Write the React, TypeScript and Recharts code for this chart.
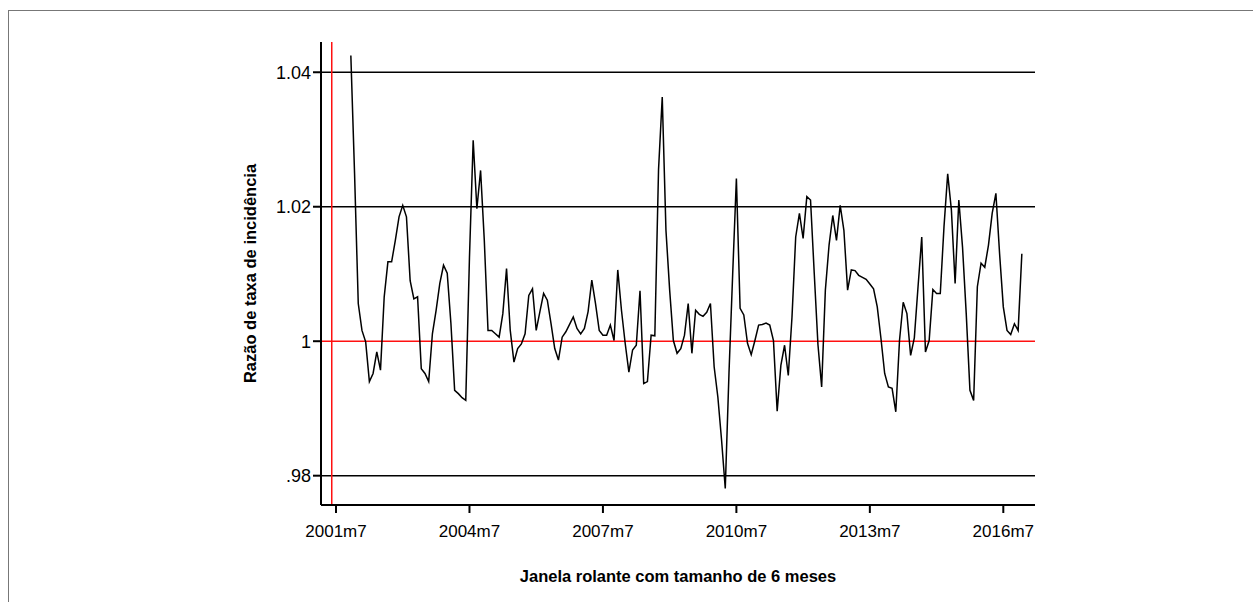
import React from 'react';
import { LineChart, Line, XAxis, YAxis, ReferenceLine } from 'recharts';

// first observation of the series
const startMonth = '2001m11';

// incidence rate ratio, one value per month (2001m11 .. 2016m12)
const ratio = [
  1.0425, 1.025,
  1.0056, 1.0016, 0.9999, 0.994, 0.9952, 0.9984, 0.9957, 1.0066, 1.0118, 1.0118, 1.015, 1.0185,
  1.0202, 1.0185, 1.009, 1.0063, 1.0066, 0.9959, 0.9952, 0.994, 1.0011, 1.0046, 1.0086, 1.0113,
  1.0101, 1.0026, 0.9927, 0.9922, 0.9916, 0.9912, 1.0125, 1.0299, 1.0197, 1.0254, 1.015, 1.0016,
  1.0016, 1.0011, 1.0006, 1.0041, 1.0108, 1.0016, 0.9969, 0.9989, 0.9996, 1.0011, 1.0068, 1.0078,
  1.0016, 1.0044, 1.0071, 1.0061, 1.0026, 0.9989, 0.9972, 1.0006, 1.0014, 1.0025, 1.0036, 1.0019,
  1.0011, 1.0019, 1.0044, 1.0091, 1.0056, 1.0016, 1.0009, 1.0009, 1.0024, 1.0001, 1.0106, 1.0046,
  0.9997, 0.9954, 0.9987, 0.9994, 1.0075, 0.9937, 0.994, 1.0009, 1.0008, 1.0255, 1.0363, 1.0165,
  1.0076, 1.0001, 0.9982, 0.9989, 1.0009, 1.0056, 0.9982, 1.0046, 1.004, 1.0037, 1.0043, 1.0056,
  0.9962, 0.9917, 0.9853, 0.9781, 0.9952, 1.01, 1.0242, 1.0049, 1.0039, 0.9997, 0.998, 1.0001,
  1.0024, 1.0025, 1.0027, 1.0024, 1.0001, 0.9896, 0.9964, 0.9994, 0.9949, 1.0036, 1.0155, 1.019,
  1.0153, 1.0215, 1.021, 1.0101, 0.9995, 0.9932, 1.0076, 1.0143, 1.0187, 1.015, 1.0202, 1.0165,
  1.0076, 1.0106, 1.0105, 1.0098, 1.0095, 1.0092, 1.0085, 1.0078, 1.0051, 1.0004, 0.9952, 0.9932,
  0.993, 0.9895, 1.0001, 1.0058, 1.0041, 0.9979, 1.0005, 1.0081, 1.0155, 0.9984, 1.0001, 1.0077,
  1.0071, 1.0071, 1.017, 1.0249, 1.0195, 1.0086, 1.021, 1.014, 1.0041, 0.9927, 0.9912, 1.0081,
  1.0116, 1.011, 1.0143, 1.019, 1.022, 1.013, 1.0051, 1.0016, 1.001, 1.0026, 1.0016, 1.013,
];

const xTickLabels = ['2001m7', '2004m7', '2007m7', '2010m7', '2013m7', '2016m7'];
const yTickValues = [0.98, 1, 1.02, 1.04];
const yTickLabels = ['.98', '1', '1.02', '1.04'];
const blackLines = [0.98, 1.02, 1.04];
const redLineY = 1;
const redLineMonth = 4.85; // a bit before 2001m7

// month index counted from 2001m1
const toIndex = (s: string) => {
  const [y, m] = s.split('m').map(Number);
  return (y - 2001) * 12 + (m - 1);
};
const toLabel = (t: number) => `${2001 + Math.floor(t / 12)}m${(t % 12) + 1}`;

const t0 = toIndex(startMonth);
const data = ratio.map((v, i) => ({ t: t0 + i, v }));
const xTicks = xTickLabels.map(toIndex);

const font = '"Liberation Sans", Arial, sans-serif';
const red = '#ff1010';

const YTitle = (props: any) => {
  const { viewBox } = props;
  const cx = viewBox.x + 9;
  const cy = viewBox.y + viewBox.height / 2;
  return (
    <text x={cx} y={cy} transform={`rotate(-90 ${cx} ${cy})`} textAnchor="middle" dominantBaseline="central"
      fontFamily={font} fontSize={16.5} fontWeight="bold" fill="#000">
      Razão de taxa de incidência
    </text>
  );
};

const XTitle = (props: any) => {
  const { viewBox } = props;
  const cx = viewBox.x + viewBox.width / 2;
  return (
    <text x={cx} y={viewBox.y + 71} textAnchor="middle" dominantBaseline="central"
      fontFamily={font} fontSize={16.5} fontWeight="bold" fill="#000">
      Janela rolante com tamanho de 6 meses
    </text>
  );
};

export default function App() {
  return (
    <div style={{ position: 'relative', width: 1253, height: 602, background: '#fff' }}>
      <style>{'body{margin:0}'}</style>
      <div style={{ position: 'absolute', left: 8, top: 10, right: 0, bottom: 0, borderTop: '1px solid #777', borderLeft: '1px solid #777' }} />
      <div style={{ position: 'absolute', left: 0, top: 0 }}>
        <LineChart width={1253} height={602} data={data} margin={{ top: 42, right: 218, bottom: 47, left: 241 }}>
          <XAxis
            type="number"
            dataKey="t"
            domain={[1.95, 194.55]}
            ticks={xTicks}
            tickFormatter={toLabel}
            height={50}
            tickSize={8}
            tickMargin={12}
            stroke="#000"
            strokeWidth={2}
            tick={{ fill: '#000', fontSize: 17, fontFamily: font }}
            allowDataOverflow
            label={<XTitle />}
          />
          <YAxis
            type="number"
            domain={[0.97564, 1.0445]}
            ticks={yTickValues}
            tickFormatter={(v: number) => yTickLabels[yTickValues.indexOf(v)]}
            width={80}
            tickSize={8}
            tickMargin={2}
            stroke="#000"
            strokeWidth={2}
            tick={{ fill: '#000', fontSize: 18, fontFamily: font }}
            allowDataOverflow
            label={<YTitle />}
          />
          {blackLines.map((y) => (
            <ReferenceLine key={y} y={y} stroke="#000" strokeWidth={1.5} />
          ))}
          <ReferenceLine y={redLineY} stroke={red} strokeWidth={1.5} />
          <ReferenceLine x={redLineMonth} stroke={red} strokeWidth={1.5} />
          <Line
            type="linear"
            dataKey="v"
            stroke="#000"
            strokeWidth={1.5}
            dot={false}
            isAnimationActive={false}
          />
        </LineChart>
      </div>
    </div>
  );
}
